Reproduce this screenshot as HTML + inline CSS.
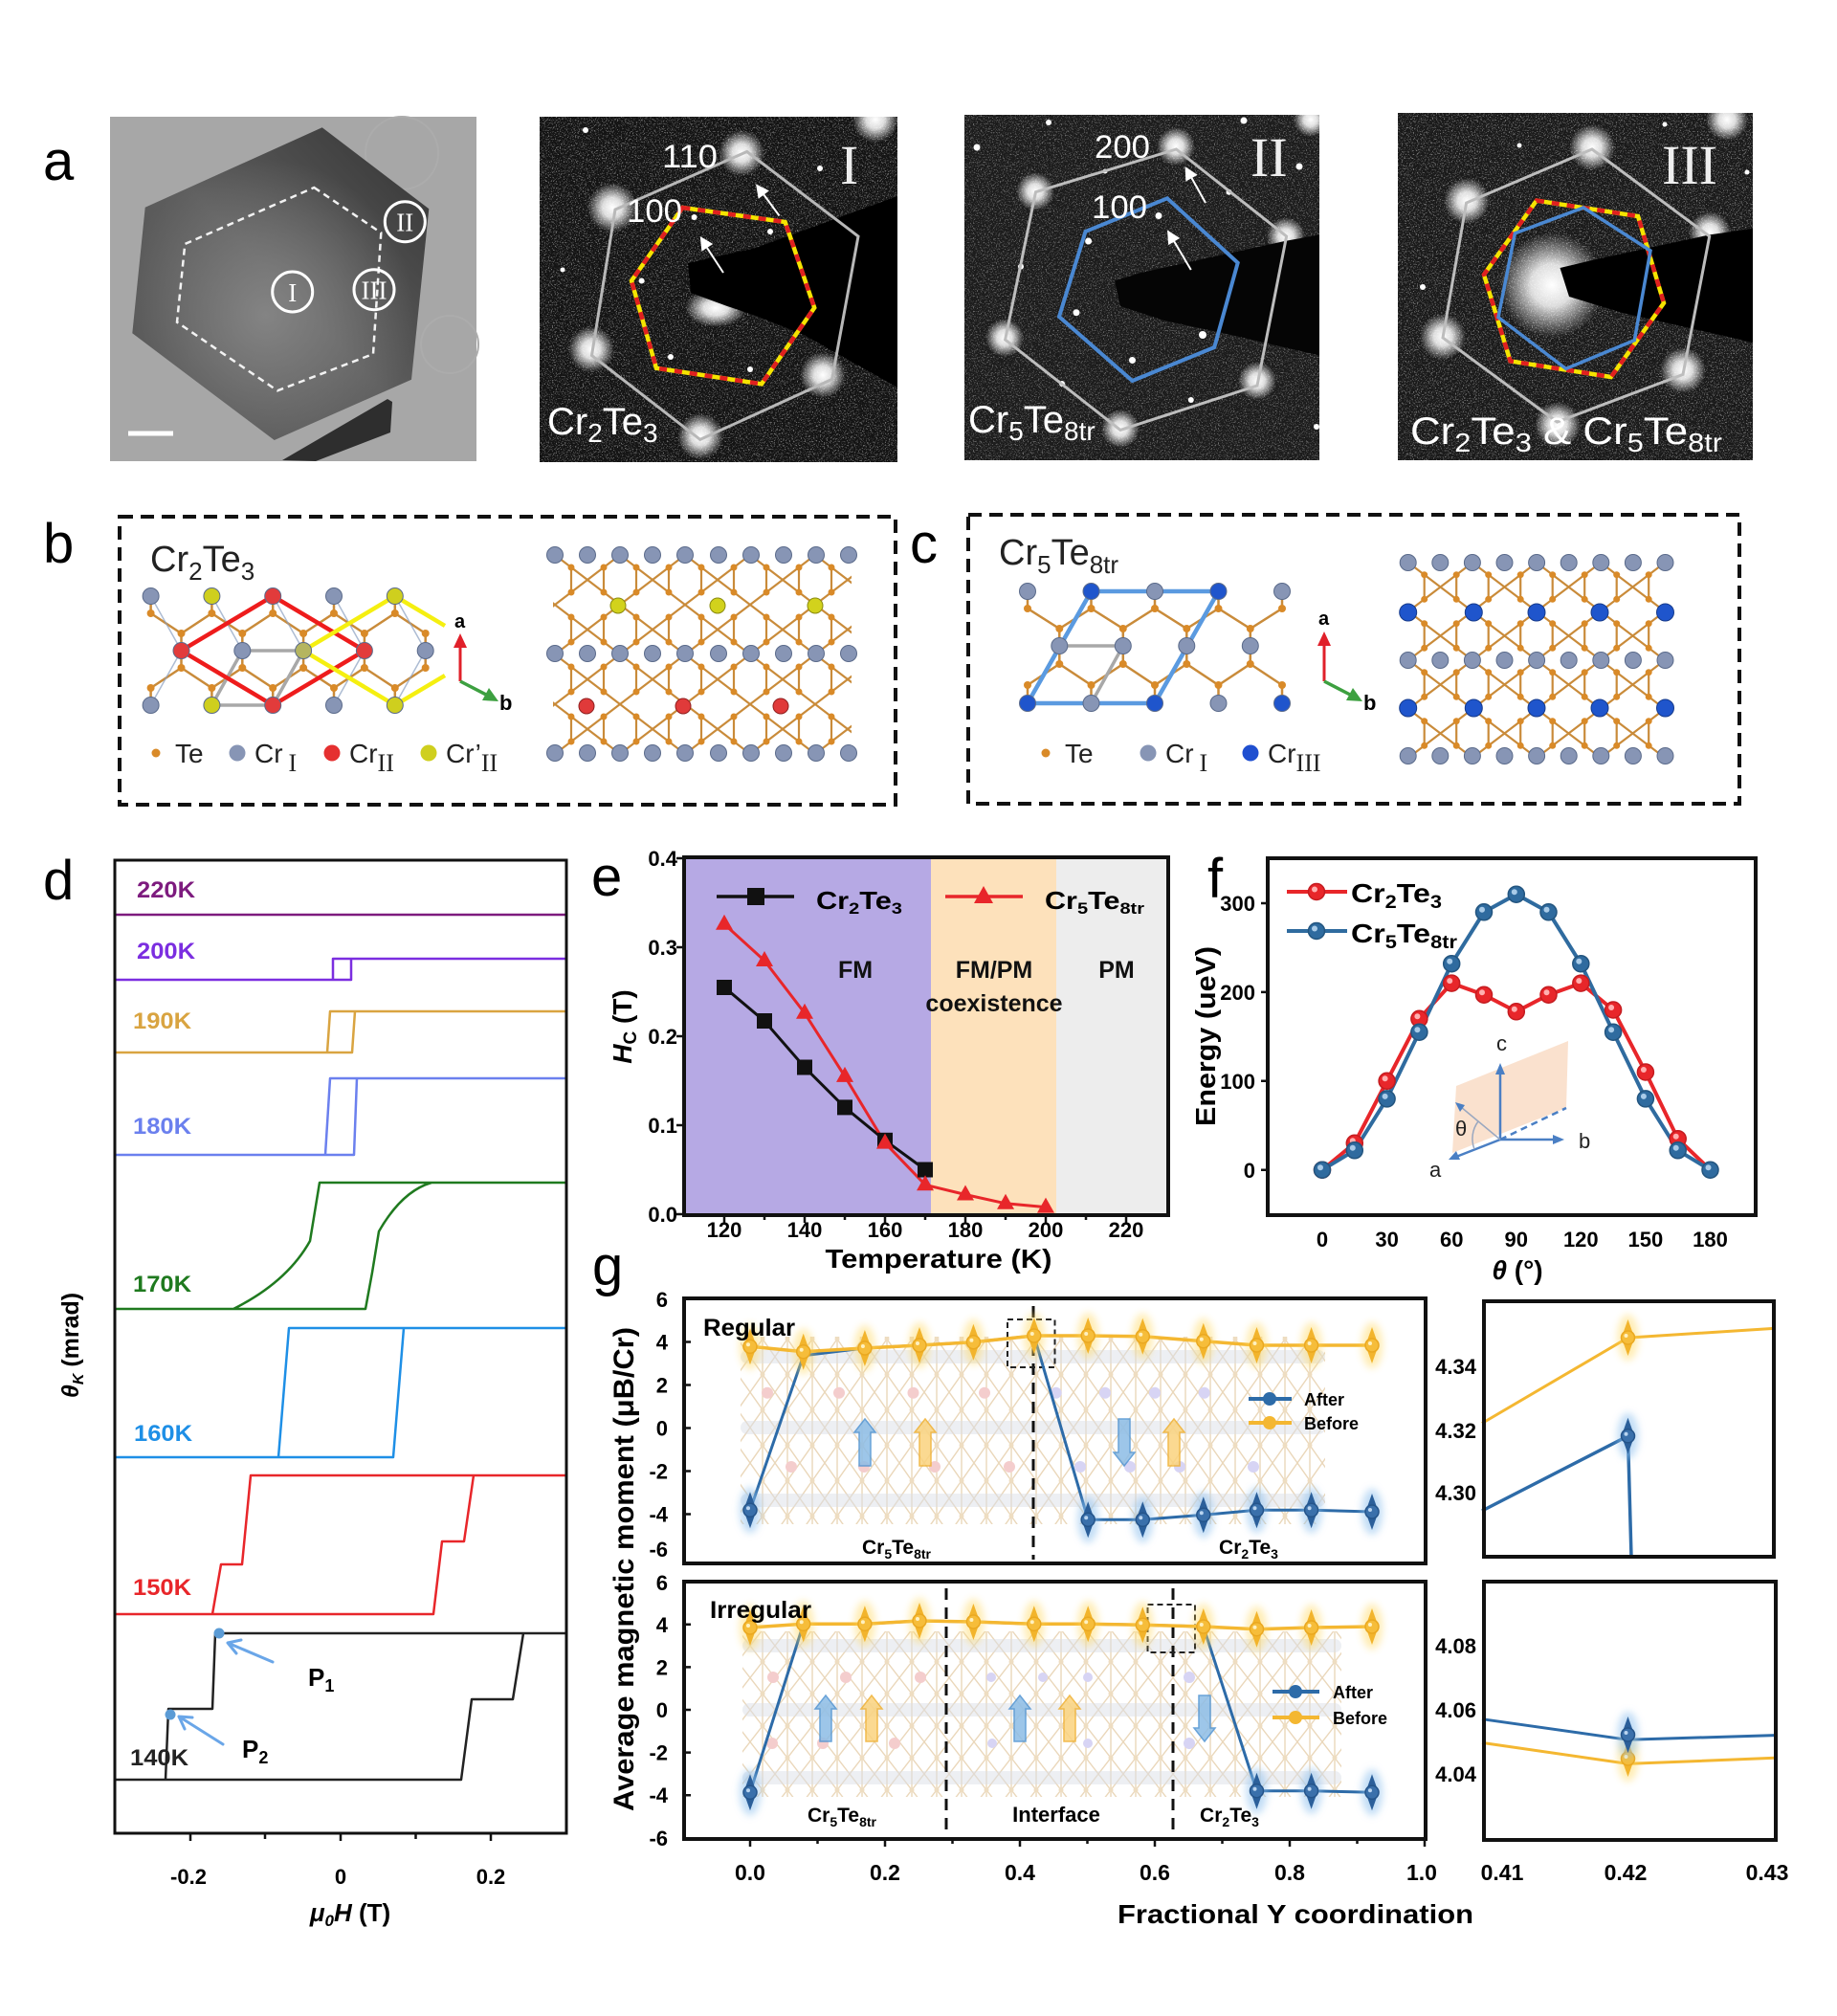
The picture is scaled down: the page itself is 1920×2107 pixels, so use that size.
<!DOCTYPE html>
<html><head><meta charset="utf-8"><style>html,body{margin:0;padding:0;background:#fff}svg{display:block}</style></head><body>
<svg width="1920" height="2107" viewBox="0 0 1920 2107" xmlns="http://www.w3.org/2000/svg" font-family="Liberation Sans, Arial, sans-serif">
<defs>
<radialGradient id="glow"><stop offset="0" stop-color="#fff" stop-opacity="1"/><stop offset="0.4" stop-color="#fff" stop-opacity="0.85"/><stop offset="1" stop-color="#fff" stop-opacity="0"/></radialGradient>
<linearGradient id="temg" x1="1" y1="0" x2="0" y2="1"><stop offset="0" stop-color="#333"/><stop offset="0.5" stop-color="#5e5e5e"/><stop offset="1" stop-color="#505050"/></linearGradient>
<radialGradient id="temc" cx="0.45" cy="0.6" r="0.5"><stop offset="0" stop-color="#888" stop-opacity="0.9"/><stop offset="1" stop-color="#888" stop-opacity="0"/></radialGradient>
<filter id="speck" x="0" y="0" width="1" height="1"><feTurbulence type="fractalNoise" baseFrequency="0.75" numOctaves="2" seed="7" result="n"/><feColorMatrix in="n" type="matrix" values="0 0 0 0 1 0 0 0 0 1 0 0 0 0 1 10 0 0 0 -5.7"/></filter>
<filter id="bl" x="-1" y="-1" width="3" height="3"><feGaussianBlur stdDeviation="4"/></filter>
<clipPath id="cpI"><rect x="564" y="122" width="374" height="361"/></clipPath>
<clipPath id="cpII"><rect x="1008" y="120" width="371" height="361"/></clipPath>
<clipPath id="cpIII"><rect x="1461" y="118" width="371" height="363"/></clipPath>
<pattern id="hxb" patternUnits="userSpaceOnUse" x="580" y="580" width="68" height="52"><path d="M0 0L34 26L68 0M0 52L34 26L68 52M17 13V39M51 13V39" stroke="#c98b3a" stroke-width="2.2" fill="none"/><circle cx="17" cy="13" r="3.5" fill="#d98a28"/><circle cx="51" cy="13" r="3.5" fill="#d98a28"/><circle cx="17" cy="39" r="3.5" fill="#d98a28"/><circle cx="51" cy="39" r="3.5" fill="#d98a28"/></pattern>
<pattern id="hxc" patternUnits="userSpaceOnUse" x="1472" y="588" width="67" height="51"><path d="M0 0L33.5 25.5L67 0M0 51L33.5 25.5L67 51M16.7 12.7V38.3M50.2 12.7V38.3" stroke="#c98b3a" stroke-width="2.2" fill="none"/><circle cx="16.7" cy="12.7" r="3.5" fill="#d98a28"/><circle cx="50.2" cy="12.7" r="3.5" fill="#d98a28"/><circle cx="16.7" cy="38.3" r="3.5" fill="#d98a28"/><circle cx="50.2" cy="38.3" r="3.5" fill="#d98a28"/></pattern>
<pattern id="lat" patternUnits="userSpaceOnUse" x="784" y="1418" width="26" height="37"><path d="M0 0L26 37M26 0L0 37M13 0V37" stroke="#e2c79e" stroke-width="1.4" fill="none"/><circle cx="13" cy="18.5" r="2.5" fill="#e8cfa8"/></pattern>
<pattern id="lat2" patternUnits="userSpaceOnUse" x="784" y="1720" width="26" height="33.5"><path d="M0 0L26 33.5M26 0L0 33.5M13 0V33.5" stroke="#e2c79e" stroke-width="1.4" fill="none"/><circle cx="13" cy="16.7" r="2.5" fill="#e8cfa8"/></pattern>
<g id="mY"><ellipse rx="11" ry="24" fill="#ffd75a" opacity="0.45" filter="url(#bl)"/><polygon points="0,-19 5,-5 5,5 0,19 -5,5 -5,-5" fill="#f2b42c"/><circle r="7" fill="#f6bd3a" stroke="#eaa820" stroke-width="1.5"/><circle cx="-2" cy="-2" r="2" fill="#fff1c0"/></g>
<g id="mB"><ellipse rx="11" ry="24" fill="#8fc1ee" opacity="0.55" filter="url(#bl)"/><polygon points="0,-19 5,-5 5,5 0,19 -5,5 -5,-5" fill="#2b5f9a"/><circle r="7" fill="#3a70ab" stroke="#24548a" stroke-width="1.5"/><circle cx="-2" cy="-2" r="2" fill="#b9d4f0"/></g>
<g id="fR"><circle r="8.5" fill="#e8262a" stroke="#c41c20" stroke-width="1.5"/><circle cx="-2" cy="-2.5" r="3" fill="#ffb0b0"/></g>
<g id="fB"><circle r="8.5" fill="#2f6b9f" stroke="#23557f" stroke-width="1.5"/><circle cx="-2" cy="-2.5" r="3" fill="#a9cbe8"/></g>
</defs>
<rect x="0" y="0" width="1920" height="2107" fill="#fff"/>

<!-- ===== Panel a ===== -->
<text x="45" y="188" font-size="58">a</text>
<rect x="115" y="122" width="383" height="360" fill="#a7a7a7"/>
<circle cx="420" cy="160" r="38" fill="none" stroke="#acacac" stroke-width="2"/>
<circle cx="470" cy="360" r="30" fill="none" stroke="#acacac" stroke-width="2"/>
<polygon points="336.7,133.3 448.3,218.3 430,396.7 286.7,460 138.3,348.3 151.7,216.7" fill="url(#temg)"/>
<polygon points="336.7,133.3 448.3,218.3 430,396.7 286.7,460 138.3,348.3 151.7,216.7" fill="url(#temc)"/>
<polygon points="295,481 405,417 410,420 408,452 330,482" fill="#2e2e2e"/>
<polygon points="328.3,196 398.3,243.3 390,370 290,408.3 185,336.7 193.3,255" fill="none" stroke="#f2f2f2" stroke-width="2.5" stroke-dasharray="7 5"/>
<g fill="none" stroke="#fff" stroke-width="3"><circle cx="305.7" cy="305" r="21"/><circle cx="423.3" cy="231.7" r="21"/><circle cx="391" cy="302.7" r="21"/></g>
<g font-family="Liberation Serif, serif" fill="#fff" font-size="27" text-anchor="middle"><text x="305.7" y="315">I</text><text x="423.3" y="241.5">II</text><text x="391" y="312.5">III</text></g>
<rect x="134" y="450.5" width="47" height="5" fill="#fff"/>

<!-- SAED I -->
<g clip-path="url(#cpI)">
<rect x="564" y="122" width="374" height="361" fill="#141414"/>
<rect x="564" y="122" width="374" height="361" fill="#fff" filter="url(#speck)" opacity="0.4"/>
<g fill="url(#glow)"><circle cx="640" cy="217" r="26"/><circle cx="775" cy="160" r="24"/><circle cx="618" cy="365" r="24"/><circle cx="732" cy="456" r="24"/><circle cx="860" cy="392" r="24"/><circle cx="915" cy="125" r="24"/><ellipse cx="748" cy="322" rx="32" ry="20"/></g>
<polygon points="719,275 790,259 938,205 938,405 840,350 790,330 760,320 722,306" fill="#000"/>
<g fill="#fff"><circle cx="612" cy="136" r="3"/><circle cx="588" cy="282" r="2.5"/><circle cx="670.6" cy="293.5" r="3"/><circle cx="701" cy="373" r="3"/><circle cx="784" cy="386" r="3"/><circle cx="805" cy="242" r="3"/><circle cx="725.6" cy="227" r="3"/><circle cx="857" cy="176" r="3"/></g>
<polygon points="780.7,158.5 897,247 869.6,396.4 731.8,459.4 618.5,371.5 643,219" fill="none" stroke="#b8b8b8" stroke-width="3"/>
<polygon points="713.4,217 820.6,232 851.2,321.7 796,401.3 685.9,384.7 660,293.5" fill="none" stroke="#f5e400" stroke-width="4.5"/>
<polygon points="713.4,217 820.6,232 851.2,321.7 796,401.3 685.9,384.7 660,293.5" fill="none" stroke="#e02020" stroke-width="4.5" stroke-dasharray="8 8"/>
<g stroke="#fff" stroke-width="2"><line x1="814.5" y1="225.5" x2="798" y2="203"/><line x1="756" y1="285" x2="739" y2="259"/></g>
<g fill="#fff"><polygon points="790,192.4 803.9,199.4 792.7,207.8"/><polygon points="731.8,247 745.2,255 733.4,262.6"/></g>
<text x="692" y="175" font-size="34" fill="#fff" textLength="58" lengthAdjust="spacingAndGlyphs">110</text>
<text x="655" y="232" font-size="34" fill="#fff" textLength="58" lengthAdjust="spacingAndGlyphs">100</text>
<text x="878" y="192" font-size="58" fill="#eee" font-family="Liberation Serif, serif">I</text>
<text x="572" y="454" font-size="40" fill="#fff">Cr<tspan font-size="28" dy="8">2</tspan><tspan dy="-8">Te</tspan><tspan font-size="28" dy="8">3</tspan></text>
</g>

<!-- SAED II -->
<g clip-path="url(#cpII)">
<rect x="1008" y="120" width="371" height="361" fill="#1c1c1c"/>
<rect x="1008" y="120" width="371" height="361" fill="#fff" filter="url(#speck)" opacity="0.35"/>
<g fill="url(#glow)"><circle cx="1229" cy="153" r="20"/><circle cx="1082" cy="200" r="20"/><circle cx="1344" cy="247" r="20"/><circle cx="1050" cy="353" r="20"/><circle cx="1314" cy="398" r="20"/><circle cx="1171" cy="448" r="20"/><circle cx="1370" cy="125" r="18"/></g>
<polygon points="1165,293.5 1192.7,285 1342.7,252 1379,245.4 1379,371.5 1278,348 1217,335 1171,320" fill="#050505"/>
<g fill="#fff"><circle cx="1021" cy="154" r="3.5"/><circle cx="1096" cy="128" r="3"/><circle cx="1300" cy="126" r="3.5"/><circle cx="1358" cy="174" r="3.5"/><circle cx="1155" cy="179" r="2.5"/><circle cx="1284.5" cy="200.7" r="3"/><circle cx="1211" cy="225.5" r="3.5"/><circle cx="1137.6" cy="252" r="3.5"/><circle cx="1067" cy="278.6" r="3"/><circle cx="1125" cy="326.7" r="3.5"/><circle cx="1257" cy="350" r="4"/><circle cx="1183.5" cy="376.5" r="3.5"/><circle cx="1110" cy="401" r="3"/><circle cx="1244.8" cy="418" r="3"/><circle cx="1376" cy="446" r="3"/></g>
<polygon points="1229.4,156 1344.6,247 1314,403 1171,449.4 1050.6,355 1082.5,200.7" fill="none" stroke="#bdbdbd" stroke-width="3"/>
<polygon points="1220,207.3 1293.7,274.6 1269.2,363 1183.5,398 1107,331 1134.5,242" fill="none" stroke="#4a88d2" stroke-width="4"/>
<g stroke="#fff" stroke-width="2"><line x1="1260" y1="212" x2="1245.5" y2="186"/><line x1="1244.8" y1="282" x2="1227" y2="252"/></g>
<g fill="#fff"><polygon points="1238.6,174 1251.6,182.8 1239.4,189.6"/><polygon points="1220,240.5 1233.2,248.9 1221.2,256.1"/></g>
<text x="1144" y="165" font-size="34" fill="#fff" textLength="58" lengthAdjust="spacingAndGlyphs">200</text>
<text x="1141" y="228" font-size="34" fill="#fff" textLength="58" lengthAdjust="spacingAndGlyphs">100</text>
<text x="1307" y="184" font-size="58" fill="#eee" font-family="Liberation Serif, serif">II</text>
<text x="1012" y="452" font-size="40" fill="#fff">Cr<tspan font-size="28" dy="8">5</tspan><tspan dy="-8">Te</tspan><tspan font-size="28" dy="8">8tr</tspan></text>
</g>

<!-- SAED III -->
<g clip-path="url(#cpIII)">
<rect x="1461" y="118" width="371" height="363" fill="#1a1a1a"/>
<rect x="1461" y="118" width="371" height="363" fill="#fff" filter="url(#speck)" opacity="0.4"/>
<g fill="url(#glow)"><circle cx="1664" cy="154" r="24"/><circle cx="1533" cy="210" r="24"/><circle cx="1787" cy="243" r="22"/><circle cx="1508" cy="352" r="24"/><circle cx="1759" cy="387" r="24"/><circle cx="1628" cy="444" r="24"/><circle cx="1805" cy="125" r="22"/><circle cx="1622" cy="298" r="55"/></g>
<polygon points="1630.5,280 1664,272 1786.7,245.4 1832,239 1832,358 1695,326.7 1640,310" fill="#000"/>
<g fill="#fff"><circle cx="1588" cy="152" r="2.5"/><circle cx="1740" cy="130" r="2.5"/><circle cx="1487" cy="300" r="3"/><circle cx="1826" cy="180" r="2.5"/></g>
<polygon points="1664,156 1786.7,247 1759,391.4 1627.5,441 1508,353 1532.6,212" fill="none" stroke="#bdbdbd" stroke-width="3"/>
<polygon points="1606,209.6 1712,226 1739,316.7 1683.8,394 1578.5,377.4 1551,287" fill="none" stroke="#f5e400" stroke-width="4.5"/>
<polygon points="1606,209.6 1712,226 1739,316.7 1683.8,394 1578.5,377.4 1551,287" fill="none" stroke="#e02020" stroke-width="4.5" stroke-dasharray="8 8"/>
<polygon points="1655,217 1725,262 1708.3,355.6 1636.7,385.4 1566,331.7 1583.4,243.8" fill="none" stroke="#4a88d2" stroke-width="3.5"/>
<text x="1737" y="192" font-size="58" fill="#eee" font-family="Liberation Serif, serif">III</text>
<text x="1474" y="464" font-size="40" fill="#fff" textLength="326" lengthAdjust="spacingAndGlyphs">Cr<tspan font-size="28" dy="8">2</tspan><tspan dy="-8">Te</tspan><tspan font-size="28" dy="8">3</tspan><tspan dy="-8"> &amp; Cr</tspan><tspan font-size="28" dy="8">5</tspan><tspan dy="-8">Te</tspan><tspan font-size="28" dy="8">8tr</tspan></text>
</g>

<!-- ===== Panel b ===== -->
<text x="45" y="588" font-size="58">b</text>
<rect x="125" y="540" width="811" height="301" fill="none" stroke="#111" stroke-width="4" stroke-dasharray="14 8"/>
<text x="157" y="597" font-size="38" fill="#222">Cr<tspan font-size="26" dy="9">2</tspan><tspan dy="-9">Te</tspan><tspan font-size="26" dy="9">3</tspan></text>
<path d="M157.6 623V641M221.4 623V641M285.2 623V641M349 623V641M412.8 623V641M157.6 641L189.5 662L221.4 641L253.3 662L285.2 641L317.1 662L349 641L380.9 662L412.8 641L444.7 662M189.5 662V698M253.3 662V698M317.1 662V698M380.9 662V698M444.7 662V698M157.6 719L189.5 698L221.4 719L253.3 698L285.2 719L317.1 698L349 719L380.9 698L412.8 719L444.7 698M157.6 719V737M221.4 719V737M285.2 719V737M349 719V737M412.8 719V737" stroke="#c98b3a" stroke-width="2.5" fill="none"/>
<path d="M157.6 623L189.5 680L157.6 737M221.4 623L253.3 680L221.4 737M285.2 623L317.1 680L285.2 737M349 623L380.9 680L349 737M412.8 623L444.7 680L412.8 737" stroke="#8aa0c0" stroke-width="1.5" fill="none" opacity="0.7"/>
<g fill="#d98a28"><circle cx="157.6" cy="641" r="4"/><circle cx="221.4" cy="641" r="4"/><circle cx="285.2" cy="641" r="4"/><circle cx="349" cy="641" r="4"/><circle cx="412.8" cy="641" r="4"/><circle cx="189.5" cy="662" r="4"/><circle cx="253.3" cy="662" r="4"/><circle cx="317.1" cy="662" r="4"/><circle cx="380.9" cy="662" r="4"/><circle cx="444.7" cy="662" r="4"/><circle cx="189.5" cy="698" r="4"/><circle cx="253.3" cy="698" r="4"/><circle cx="317.1" cy="698" r="4"/><circle cx="380.9" cy="698" r="4"/><circle cx="444.7" cy="698" r="4"/><circle cx="157.6" cy="719" r="4"/><circle cx="221.4" cy="719" r="4"/><circle cx="285.2" cy="719" r="4"/><circle cx="349" cy="719" r="4"/><circle cx="412.8" cy="719" r="4"/></g>
<polygon points="253.3,680 317.1,680 285.2,737 221.4,737" fill="none" stroke="#a8a8a8" stroke-width="3.5"/>
<polygon points="285.2,623 380.9,680 285.2,737 189.5,680" fill="none" stroke="#ee1c1c" stroke-width="4.5"/>
<path d="M465 654L412.8 623L317.1 680L412.8 737L465 706" fill="none" stroke="#f5ef10" stroke-width="4.5"/>
<g stroke="#5a6a8a" stroke-width="1"><circle cx="157.6" cy="623" r="8.5" fill="#8795b5"/><circle cx="221.4" cy="623" r="8.5" fill="#cfcf1e"/><circle cx="285.2" cy="623" r="8.5" fill="#e23b3b"/><circle cx="349" cy="623" r="8.5" fill="#8795b5"/><circle cx="412.8" cy="623" r="8.5" fill="#cfcf1e"/><circle cx="189.5" cy="680" r="8.5" fill="#e23b3b"/><circle cx="253.3" cy="680" r="8.5" fill="#8795b5"/><circle cx="317.1" cy="680" r="8.5" fill="#b5b560"/><circle cx="380.9" cy="680" r="8.5" fill="#e23b3b"/><circle cx="444.7" cy="680" r="8.5" fill="#8795b5"/><circle cx="157.6" cy="737" r="8.5" fill="#8795b5"/><circle cx="221.4" cy="737" r="8.5" fill="#cfcf1e"/><circle cx="285.2" cy="737" r="8.5" fill="#e23b3b"/><circle cx="349" cy="737" r="8.5" fill="#8795b5"/><circle cx="412.8" cy="737" r="8.5" fill="#cfcf1e"/></g>
<line x1="481" y1="712" x2="481" y2="675" stroke="#e0202a" stroke-width="3"/><polygon points="481,662 474,677 488,677" fill="#e0202a"/>
<line x1="481" y1="712" x2="510" y2="727" stroke="#3da040" stroke-width="3.5"/><polygon points="521,733 504,732 511,719" fill="#3da040"/>
<text x="475" y="656" font-size="20" font-weight="bold">a</text>
<text x="522" y="742" font-size="22" font-weight="bold">b</text>
<circle cx="163" cy="787" r="4.5" fill="#d98a28"/><text x="183" y="797" font-size="28" fill="#222">Te</text>
<circle cx="248" cy="787" r="8.5" fill="#8795b5"/><text x="266" y="797" font-size="28" fill="#222">Cr<tspan font-family="Liberation Serif, serif" font-size="26" dx="6" dy="9">I</tspan></text>
<circle cx="347" cy="787" r="8.5" fill="#e53030"/><text x="365" y="797" font-size="28" fill="#222">Cr<tspan font-family="Liberation Serif, serif" font-size="26" dy="9">II</tspan></text>
<circle cx="448" cy="787" r="8.5" fill="#cfcf1e"/><text x="466" y="797" font-size="28" fill="#222">Cr’<tspan font-family="Liberation Serif, serif" font-size="26" dy="9">II</tspan></text>
<rect x="578" y="580" width="312" height="207" fill="url(#hxb)"/>
<g stroke="#5a6a8a" stroke-width="1" fill="#8795b5">
<circle cx="580" cy="580" r="8.5"/><circle cx="614" cy="580" r="8.5"/><circle cx="648" cy="580" r="8.5"/><circle cx="682" cy="580" r="8.5"/><circle cx="716" cy="580" r="8.5"/><circle cx="751" cy="580" r="8.5"/><circle cx="785" cy="580" r="8.5"/><circle cx="819" cy="580" r="8.5"/><circle cx="853" cy="580" r="8.5"/><circle cx="887" cy="580" r="8.5"/>
<circle cx="580" cy="683" r="8.5"/><circle cx="614" cy="683" r="8.5"/><circle cx="648" cy="683" r="8.5"/><circle cx="682" cy="683" r="8.5"/><circle cx="716" cy="683" r="8.5"/><circle cx="751" cy="683" r="8.5"/><circle cx="785" cy="683" r="8.5"/><circle cx="819" cy="683" r="8.5"/><circle cx="853" cy="683" r="8.5"/><circle cx="887" cy="683" r="8.5"/>
<circle cx="580" cy="787" r="8.5"/><circle cx="614" cy="787" r="8.5"/><circle cx="648" cy="787" r="8.5"/><circle cx="682" cy="787" r="8.5"/><circle cx="716" cy="787" r="8.5"/><circle cx="751" cy="787" r="8.5"/><circle cx="785" cy="787" r="8.5"/><circle cx="819" cy="787" r="8.5"/><circle cx="853" cy="787" r="8.5"/><circle cx="887" cy="787" r="8.5"/>
</g>
<g stroke="#8a8a10" stroke-width="1" fill="#d2d21c"><circle cx="646" cy="633" r="8"/><circle cx="750" cy="633" r="8"/><circle cx="852" cy="633" r="8"/></g>
<g stroke="#902020" stroke-width="1" fill="#e03a3a"><circle cx="613" cy="738" r="8"/><circle cx="714" cy="738" r="8"/><circle cx="816" cy="738" r="8"/></g>

<!-- ===== Panel c ===== -->
<text x="951" y="588" font-size="58">c</text>
<rect x="1012" y="538" width="806" height="302" fill="none" stroke="#111" stroke-width="4" stroke-dasharray="14 8"/>
<text x="1044" y="590" font-size="38" fill="#222">Cr<tspan font-size="26" dy="9">5</tspan><tspan dy="-9">Te</tspan><tspan font-size="26" dy="9">8tr</tspan></text>
<path d="M1074 618V636M1140.5 618V636M1207 618V636M1273.5 618V636M1340 618V636M1074 636L1107.3 657L1140.5 636L1173.8 657L1207 636L1240.3 657L1273.5 636L1306.8 657L1340 636M1107.3 657V694M1173.8 657V694M1240.3 657V694M1306.8 657V694M1074 716L1107.3 694L1140.5 716L1173.8 694L1207 716L1240.3 694L1273.5 716L1306.8 694L1340 716M1074 716V735M1140.5 716V735M1207 716V735M1273.5 716V735M1340 716V735" stroke="#c98b3a" stroke-width="2.5" fill="none"/>
<g fill="#d98a28"><circle cx="1074" cy="636" r="4"/><circle cx="1140.5" cy="636" r="4"/><circle cx="1207" cy="636" r="4"/><circle cx="1273.5" cy="636" r="4"/><circle cx="1340" cy="636" r="4"/><circle cx="1107.3" cy="657" r="4"/><circle cx="1173.8" cy="657" r="4"/><circle cx="1240.3" cy="657" r="4"/><circle cx="1306.8" cy="657" r="4"/><circle cx="1107.3" cy="694" r="4"/><circle cx="1173.8" cy="694" r="4"/><circle cx="1240.3" cy="694" r="4"/><circle cx="1306.8" cy="694" r="4"/><circle cx="1074" cy="716" r="4"/><circle cx="1140.5" cy="716" r="4"/><circle cx="1207" cy="716" r="4"/><circle cx="1273.5" cy="716" r="4"/><circle cx="1340" cy="716" r="4"/></g>
<polygon points="1107.3,675 1173.8,675 1140.5,735 1074,735" fill="none" stroke="#a8a8a8" stroke-width="3.5"/>
<polygon points="1140.5,618 1273.5,618 1207,735 1074,735" fill="none" stroke="#5a9ae0" stroke-width="4.5"/>
<g stroke="#5a6a8a" stroke-width="1"><circle cx="1074" cy="618" r="8.5" fill="#8795b5"/><circle cx="1140.5" cy="618" r="8.5" fill="#1f55cc"/><circle cx="1207" cy="618" r="8.5" fill="#8795b5"/><circle cx="1273.5" cy="618" r="8.5" fill="#1f55cc"/><circle cx="1340" cy="618" r="8.5" fill="#8795b5"/><circle cx="1107.3" cy="675" r="8.5" fill="#8795b5"/><circle cx="1173.8" cy="675" r="8.5" fill="#8795b5"/><circle cx="1240.3" cy="675" r="8.5" fill="#8795b5"/><circle cx="1306.8" cy="675" r="8.5" fill="#8795b5"/><circle cx="1074" cy="735" r="8.5" fill="#1f55cc"/><circle cx="1140.5" cy="735" r="8.5" fill="#8795b5"/><circle cx="1207" cy="735" r="8.5" fill="#1f55cc"/><circle cx="1273.5" cy="735" r="8.5" fill="#8795b5"/><circle cx="1340" cy="735" r="8.5" fill="#1f55cc"/></g>
<line x1="1384" y1="712" x2="1384" y2="673" stroke="#e0202a" stroke-width="3"/><polygon points="1384,660 1377,675 1391,675" fill="#e0202a"/>
<line x1="1384" y1="712" x2="1413" y2="727" stroke="#3da040" stroke-width="3.5"/><polygon points="1424,733 1407,732 1414,719" fill="#3da040"/>
<text x="1378" y="653" font-size="20" font-weight="bold">a</text>
<text x="1425" y="742" font-size="22" font-weight="bold">b</text>
<circle cx="1093" cy="787" r="4.5" fill="#d98a28"/><text x="1113" y="797" font-size="28" fill="#222">Te</text>
<circle cx="1200" cy="787" r="8.5" fill="#8795b5"/><text x="1218" y="797" font-size="28" fill="#222">Cr<tspan font-family="Liberation Serif, serif" font-size="26" dx="6" dy="9">I</tspan></text>
<circle cx="1307" cy="787" r="8.5" fill="#1f4fd0"/><text x="1325" y="797" font-size="28" fill="#222">Cr<tspan font-family="Liberation Serif, serif" font-size="26" dy="9">III</tspan></text>
<rect x="1470" y="588" width="274" height="202" fill="url(#hxc)"/>
<g stroke="#5a6a8a" stroke-width="1" fill="#8795b5">
<circle cx="1471.7" cy="588" r="8.5"/><circle cx="1505.3" cy="588" r="8.5"/><circle cx="1538.9" cy="588" r="8.5"/><circle cx="1572.5" cy="588" r="8.5"/><circle cx="1606.1" cy="588" r="8.5"/><circle cx="1639.7" cy="588" r="8.5"/><circle cx="1673.3" cy="588" r="8.5"/><circle cx="1706.9" cy="588" r="8.5"/><circle cx="1740.5" cy="588" r="8.5"/>
<circle cx="1471.7" cy="690" r="8.5"/><circle cx="1505.3" cy="690" r="8.5"/><circle cx="1538.9" cy="690" r="8.5"/><circle cx="1572.5" cy="690" r="8.5"/><circle cx="1606.1" cy="690" r="8.5"/><circle cx="1639.7" cy="690" r="8.5"/><circle cx="1673.3" cy="690" r="8.5"/><circle cx="1706.9" cy="690" r="8.5"/><circle cx="1740.5" cy="690" r="8.5"/>
<circle cx="1471.7" cy="790" r="8.5"/><circle cx="1505.3" cy="790" r="8.5"/><circle cx="1538.9" cy="790" r="8.5"/><circle cx="1572.5" cy="790" r="8.5"/><circle cx="1606.1" cy="790" r="8.5"/><circle cx="1639.7" cy="790" r="8.5"/><circle cx="1673.3" cy="790" r="8.5"/><circle cx="1706.9" cy="790" r="8.5"/><circle cx="1740.5" cy="790" r="8.5"/>
</g>
<g stroke="#163a8a" stroke-width="1" fill="#1f55cc"><circle cx="1471.7" cy="640" r="9"/><circle cx="1540.3" cy="640" r="9"/><circle cx="1606" cy="640" r="9"/><circle cx="1672" cy="640" r="9"/><circle cx="1740.5" cy="640" r="9"/><circle cx="1471.7" cy="740" r="9"/><circle cx="1540.3" cy="740" r="9"/><circle cx="1606" cy="740" r="9"/><circle cx="1672" cy="740" r="9"/><circle cx="1740.5" cy="740" r="9"/></g>

<!-- ===== Panel d ===== -->
<text x="45" y="940" font-size="58">d</text>
<g fill="none" stroke-width="2.5" stroke-linejoin="round">
<path d="M120 956H592" stroke="#7d1b7e"/>
<path d="M120 1024H367V1002H592M367 1002H348V1024" stroke="#7b2ee0"/>
<path d="M120 1100H368L371 1057H592M371 1057H345L342 1100" stroke="#d9a441"/>
<path d="M120 1207H370L373 1127H592M373 1127H345L340 1207" stroke="#6b80ee"/>
<path d="M120 1368H382L389 1330L396 1287Q420 1245 451 1236H592M451 1236H334L324 1297Q300 1340 244 1368" stroke="#1f7a1f"/>
<path d="M120 1523H411L422 1388H592M422 1388H302L291 1523" stroke="#1e8fe6"/>
<path d="M120 1687H453L462 1611H485L495 1542H592M495 1542H262L253 1635H231L222 1687" stroke="#e8262a"/>
<path d="M120 1860H482L493 1776H536L547 1707H592M547 1707H225L222 1786H176L173 1860" stroke="#222"/>
</g>
<g font-size="24" font-weight="bold">
<text x="143" y="938" fill="#7d1b7e" textLength="61" lengthAdjust="spacingAndGlyphs">220K</text>
<text x="143" y="1002" fill="#7b2ee0" textLength="61" lengthAdjust="spacingAndGlyphs">200K</text>
<text x="139" y="1075" fill="#d9a441" textLength="61" lengthAdjust="spacingAndGlyphs">190K</text>
<text x="139" y="1185" fill="#6b80ee" textLength="61" lengthAdjust="spacingAndGlyphs">180K</text>
<text x="139" y="1350" fill="#1f7a1f" textLength="61" lengthAdjust="spacingAndGlyphs">170K</text>
<text x="140" y="1506" fill="#1e8fe6" textLength="61" lengthAdjust="spacingAndGlyphs">160K</text>
<text x="139" y="1667" fill="#e8262a" textLength="61" lengthAdjust="spacingAndGlyphs">150K</text>
<text x="136" y="1845" fill="#222" textLength="61" lengthAdjust="spacingAndGlyphs">140K</text>
</g>
<circle cx="229" cy="1707" r="5.5" fill="#5b9bd5"/><circle cx="178" cy="1792" r="5.5" fill="#5b9bd5"/>
<g stroke="#6aa6e8" stroke-width="3" fill="none" stroke-linecap="round"><path d="M285 1737L238 1717M238 1717L252 1714M238 1717L247 1728"/><path d="M233 1823L187 1794M187 1794L201 1795M187 1794L193 1807"/></g>
<text x="322" y="1762" font-size="26" font-weight="bold">P<tspan font-size="18" dy="6">1</tspan></text>
<text x="253" y="1837" font-size="26" font-weight="bold">P<tspan font-size="18" dy="6">2</tspan></text>
<rect x="120" y="899" width="472" height="1017" fill="none" stroke="#111" stroke-width="3"/>
<path d="M199 1916v8M277 1916v6M356 1916v8M434.5 1916v6M513 1916v8" stroke="#111" stroke-width="2.5"/>
<g font-size="22" font-weight="bold" text-anchor="middle"><text x="197" y="1969">-0.2</text><text x="356" y="1969">0</text><text x="513" y="1969">0.2</text></g>
<text x="366" y="2008" font-size="26" font-weight="bold" font-style="italic" text-anchor="middle">μ<tspan font-size="17" dy="5">0</tspan><tspan dy="-5">H</tspan><tspan font-style="normal"> (T)</tspan></text>
<text transform="translate(82,1406) rotate(-90)" font-size="25" font-weight="bold" text-anchor="middle"><tspan font-style="italic">θ</tspan><tspan font-size="16" font-style="italic" dy="5">K</tspan><tspan dy="-5"> (mrad)</tspan></text>

<!-- ===== Panel e ===== -->
<text x="618" y="936" font-size="58">e</text>
<rect x="715" y="896" width="258" height="374" fill="#b6a9e4"/>
<rect x="973" y="896" width="131" height="374" fill="#fde1bb"/>
<rect x="1104" y="896" width="117" height="374" fill="#ededed"/>
<polyline points="757,1031.8 799,1067.2 841,1115.5 883,1157.4 925,1191.8 967,1222.5" fill="none" stroke="#111" stroke-width="3"/>
<polyline points="757,965.8 799,1004 841,1058.8 883,1124.9 925,1194.6 967,1238.3 1009,1248.5 1051,1257.8 1093,1261.6" fill="none" stroke="#e8262a" stroke-width="3"/>
<g fill="#111"><rect x="749" y="1024" width="16" height="16"/><rect x="791" y="1059" width="16" height="16"/><rect x="833" y="1107.5" width="16" height="16"/><rect x="875" y="1149.4" width="16" height="16"/><rect x="917" y="1183.8" width="16" height="16"/><rect x="959" y="1214.5" width="16" height="16"/></g>
<g fill="#e8262a"><polygon points="757,955.8 766,971.8 748,971.8"/><polygon points="799,994 808,1010 790,1010"/><polygon points="841,1048.8 850,1064.8 832,1064.8"/><polygon points="883,1114.9 892,1130.9 874,1130.9"/><polygon points="925,1184.6 934,1200.6 916,1200.6"/><polygon points="967,1228.3 976,1244.3 958,1244.3"/><polygon points="1009,1238.5 1018,1254.5 1000,1254.5"/><polygon points="1051,1247.8 1060,1263.8 1042,1263.8"/><polygon points="1093,1251.6 1102,1267.6 1084,1267.6"/></g>
<line x1="749" y1="937" x2="830" y2="937" stroke="#111" stroke-width="3.5"/><rect x="781" y="928" width="18" height="18" fill="#111"/>
<text x="853" y="950" font-size="26" font-weight="bold" textLength="90" lengthAdjust="spacingAndGlyphs">Cr<tspan font-size="17" dy="5">2</tspan><tspan dy="-5">Te</tspan><tspan font-size="17" dy="5">3</tspan></text>
<line x1="988" y1="937" x2="1069" y2="937" stroke="#e8262a" stroke-width="3.5"/><polygon points="1028,926 1038,944 1018,944" fill="#e8262a"/>
<text x="1092" y="950" font-size="26" font-weight="bold" textLength="104" lengthAdjust="spacingAndGlyphs">Cr<tspan font-size="17" dy="5">5</tspan><tspan dy="-5">Te</tspan><tspan font-size="17" dy="5">8tr</tspan></text>
<g font-size="25" font-weight="bold" text-anchor="middle" fill="#111"><text x="894" y="1022">FM</text><text x="1039" y="1022">FM/PM</text><text x="1039" y="1057">coexistence</text><text x="1167" y="1022">PM</text></g>
<rect x="715" y="896" width="506" height="374" fill="none" stroke="#111" stroke-width="4"/>
<path d="M757 1270v8M799 1270v5M841 1270v8M883 1270v5M925 1270v8M967 1270v5M1009 1270v8M1051 1270v5M1093 1270v8M1135 1270v5M1177 1270v8M715 1269h-8M715 1176h-8M715 1083h-8M715 990h-8M715 897h-8" stroke="#111" stroke-width="2.5"/>
<g font-size="22" font-weight="bold" text-anchor="end"><text x="708" y="1277">0.0</text><text x="708" y="1184">0.1</text><text x="708" y="1091">0.2</text><text x="708" y="998">0.3</text><text x="708" y="905">0.4</text></g>
<g font-size="22" font-weight="bold" text-anchor="middle"><text x="757" y="1293">120</text><text x="841" y="1293">140</text><text x="925" y="1293">160</text><text x="1009" y="1293">180</text><text x="1093" y="1293">200</text><text x="1177" y="1293">220</text></g>
<text x="981" y="1325" font-size="28" font-weight="bold" text-anchor="middle" textLength="237" lengthAdjust="spacingAndGlyphs">Temperature (K)</text>
<text transform="translate(660,1073) rotate(-90)" font-size="28" font-weight="bold" text-anchor="middle"><tspan font-style="italic">H</tspan><tspan font-size="19" dy="5">C</tspan><tspan dy="-5"> (T)</tspan></text>

<!-- ===== Panel f ===== -->
<text x="1262" y="938" font-size="58">f</text>
<polygon points="1522,1135 1639,1088 1637,1158 1518,1205" fill="#f9dcc6" opacity="0.85"/>
<g stroke="#4a7fc4" stroke-width="2.5" fill="none"><line x1="1568" y1="1191" x2="1568" y2="1120"/><line x1="1568" y1="1191" x2="1626" y2="1191"/><line x1="1568" y1="1191" x2="1522" y2="1209"/><line x1="1568" y1="1191" x2="1637" y2="1158" stroke-dasharray="7 5"/></g>
<line x1="1568" y1="1191" x2="1527" y2="1157" stroke="#9aa8c0" stroke-width="1.5"/>
<path d="M1545 1172A30 30 0 0 0 1541 1201" stroke="#9aa8c0" stroke-width="1.5" fill="none"/>
<g fill="#4a7fc4"><polygon points="1568,1111 1563,1123 1573,1123"/><polygon points="1635,1191 1623,1186 1623,1196"/><polygon points="1514,1212 1522,1203 1526,1212"/><polygon points="1521,1152 1531,1155 1526,1162"/></g>
<g font-size="22" fill="#222"><text x="1564" y="1098">c</text><text x="1650" y="1200">b</text><text x="1494" y="1230">a</text><text x="1521" y="1187">θ</text></g>
<polyline points="1382,1222.7 1415.8,1194.8 1449.6,1129.8 1483.4,1064.8 1517.2,1027.6 1551,1039.7 1584.8,1057.3 1618.5,1039.7 1652.3,1027.6 1686.1,1055.5 1719.9,1120.5 1753.7,1190.2 1787.5,1222.7" fill="none" stroke="#e8262a" stroke-width="4"/>
<polyline points="1382,1222.7 1415.8,1202.3 1449.6,1148.4 1483.4,1078.7 1517.2,1007.2 1551,953.3 1584.8,934.7 1618.5,953.3 1652.3,1007.2 1686.1,1078.7 1719.9,1148.4 1753.7,1202.3 1787.5,1222.7" fill="none" stroke="#2f6b9f" stroke-width="4"/>
<use href="#fR" x="1382" y="1222.7"/><use href="#fR" x="1415.8" y="1194.8"/><use href="#fR" x="1449.6" y="1129.8"/><use href="#fR" x="1483.4" y="1064.8"/><use href="#fR" x="1517.2" y="1027.6"/><use href="#fR" x="1551" y="1039.7"/><use href="#fR" x="1584.8" y="1057.3"/><use href="#fR" x="1618.5" y="1039.7"/><use href="#fR" x="1652.3" y="1027.6"/><use href="#fR" x="1686.1" y="1055.5"/><use href="#fR" x="1719.9" y="1120.5"/><use href="#fR" x="1753.7" y="1190.2"/>
<use href="#fB" x="1382" y="1222.7"/><use href="#fB" x="1415.8" y="1202.3"/><use href="#fB" x="1449.6" y="1148.4"/><use href="#fB" x="1483.4" y="1078.7"/><use href="#fB" x="1517.2" y="1007.2"/><use href="#fB" x="1551" y="953.3"/><use href="#fB" x="1584.8" y="934.7"/><use href="#fB" x="1618.5" y="953.3"/><use href="#fB" x="1652.3" y="1007.2"/><use href="#fB" x="1686.1" y="1078.7"/><use href="#fB" x="1719.9" y="1148.4"/><use href="#fB" x="1753.7" y="1202.3"/><use href="#fB" x="1787.5" y="1222.7"/>
<line x1="1345" y1="932" x2="1408" y2="932" stroke="#e8262a" stroke-width="4"/><use href="#fR" x="1376" y="932"/>
<line x1="1345" y1="973" x2="1408" y2="973" stroke="#2f6b9f" stroke-width="4"/><use href="#fB" x="1376" y="973"/>
<text x="1412" y="943" font-size="28" font-weight="bold" textLength="95" lengthAdjust="spacingAndGlyphs">Cr<tspan font-size="19" dy="6">2</tspan><tspan dy="-6">Te</tspan><tspan font-size="19" dy="6">3</tspan></text>
<text x="1412" y="985" font-size="28" font-weight="bold" textLength="111" lengthAdjust="spacingAndGlyphs">Cr<tspan font-size="19" dy="6">5</tspan><tspan dy="-6">Te</tspan><tspan font-size="19" dy="6">8tr</tspan></text>
<rect x="1325" y="897" width="510" height="373" fill="none" stroke="#111" stroke-width="4"/>
<path d="M1325 1222.7h-7M1325 1129.8h-7M1325 1036.9h-7M1325 944h-7" stroke="#111" stroke-width="2.5"/>
<g font-size="22" font-weight="bold" text-anchor="end"><text x="1312" y="1231">0</text><text x="1312" y="1138">100</text><text x="1312" y="1045">200</text><text x="1312" y="952">300</text></g>
<g font-size="22" font-weight="bold" text-anchor="middle"><text x="1382" y="1303">0</text><text x="1449.6" y="1303">30</text><text x="1517.2" y="1303">60</text><text x="1584.8" y="1303">90</text><text x="1652.3" y="1303">120</text><text x="1719.9" y="1303">150</text><text x="1787.5" y="1303">180</text></g>
<text x="1586" y="1337" font-size="28" font-weight="bold" text-anchor="middle"><tspan font-style="italic">θ</tspan> (°)</text>
<text transform="translate(1270,1083) rotate(-90)" font-size="29" font-weight="bold" text-anchor="middle" textLength="188" lengthAdjust="spacingAndGlyphs">Energy (ueV)</text>

<!-- ===== Panel g ===== -->
<text x="619" y="1343" font-size="58">g</text>
<g opacity="0.7">
<rect x="774" y="1397" width="611" height="196" fill="url(#lat)"/>
<g fill="#cbd2de"><rect x="774" y="1411" width="611" height="14" rx="7" opacity="0.5"/><rect x="774" y="1485" width="611" height="14" rx="7" opacity="0.5"/><rect x="774" y="1561" width="611" height="14" rx="7" opacity="0.5"/></g>
<g fill="#f0b9b9"><circle cx="802" cy="1455.7" r="6"/><circle cx="877" cy="1455.7" r="6"/><circle cx="954.5" cy="1455.7" r="6"/><circle cx="1029" cy="1455.7" r="6"/><circle cx="827" cy="1533" r="6"/><circle cx="903" cy="1533" r="6"/><circle cx="977" cy="1533" r="6"/><circle cx="1055" cy="1533" r="6"/></g>
<g fill="#c7c3f0"><circle cx="1103.7" cy="1455.7" r="6"/><circle cx="1155" cy="1455.7" r="6"/><circle cx="1207" cy="1455.7" r="6"/><circle cx="1258.7" cy="1455.7" r="6"/><circle cx="1129" cy="1533" r="6"/><circle cx="1181" cy="1533" r="6"/><circle cx="1233" cy="1533" r="6"/><circle cx="1310" cy="1533" r="6"/></g>
</g>
<line x1="1080" y1="1365" x2="1080" y2="1630" stroke="#111" stroke-width="3" stroke-dasharray="12 8"/>
<rect x="1053" y="1379" width="49.5" height="50" fill="none" stroke="#222" stroke-width="2" stroke-dasharray="6 4"/>
<g stroke-width="1.5"><polygon points="898,1532 898,1497 893,1497 904,1483 915,1497 910,1497 910,1532" fill="#8dbde6" stroke="#4f93d2" opacity="0.85"/><polygon points="961,1532 961,1497 956,1497 967,1483 978,1497 973,1497 973,1532" fill="#fbd37e" stroke="#f0b030" opacity="0.85"/><polygon points="1169,1483 1169,1518 1164,1518 1175,1532 1186,1518 1181,1518 1181,1483" fill="#8dbde6" stroke="#4f93d2" opacity="0.85"/><polygon points="1221,1532 1221,1497 1216,1497 1227,1483 1238,1497 1233,1497 1233,1532" fill="#fbd37e" stroke="#f0b030" opacity="0.85"/></g>
<polyline points="784,1578.3 839.7,1416.7 903.9,1409 961,1406 1017.4,1402.7 1080.8,1396 1137.2,1588.3 1194.3,1588.3 1257.8,1583.3 1313.5,1578.3 1370.6,1578.3 1434,1580" fill="none" stroke="#2d6ba8" stroke-width="3"/>
<polyline points="784,1407.3 839.7,1412.7 903.9,1409 961,1406 1017.4,1402.7 1080.8,1396 1137.2,1396 1194.3,1396.7 1257.8,1401.7 1313.5,1406 1370.6,1406 1434,1406" fill="none" stroke="#f4b731" stroke-width="3.5"/>
<use href="#mB" x="784" y="1578.3"/><use href="#mB" x="1137.2" y="1588.3"/><use href="#mB" x="1194.3" y="1588.3"/><use href="#mB" x="1257.8" y="1583.3"/><use href="#mB" x="1313.5" y="1578.3"/><use href="#mB" x="1370.6" y="1578.3"/><use href="#mB" x="1434" y="1580"/>
<use href="#mY" x="784" y="1407.3"/><use href="#mY" x="839.7" y="1412.7"/><use href="#mY" x="903.9" y="1409"/><use href="#mY" x="961" y="1406"/><use href="#mY" x="1017.4" y="1402.7"/><use href="#mY" x="1080.8" y="1396"/><use href="#mY" x="1137.2" y="1396"/><use href="#mY" x="1194.3" y="1396.7"/><use href="#mY" x="1257.8" y="1401.7"/><use href="#mY" x="1313.5" y="1406"/><use href="#mY" x="1370.6" y="1406"/><use href="#mY" x="1434" y="1406"/>
<line x1="1305" y1="1462" x2="1350" y2="1462" stroke="#2d6ba8" stroke-width="4"/><circle cx="1327" cy="1462" r="7" fill="#2d6ba8"/>
<line x1="1305" y1="1487" x2="1350" y2="1487" stroke="#f4b731" stroke-width="4"/><circle cx="1327" cy="1487" r="7" fill="#f4b731"/>
<g font-size="18" font-weight="bold"><text x="1363" y="1469">After</text><text x="1363" y="1494">Before</text></g>
<text x="735" y="1396" font-size="25" font-weight="bold" textLength="96" lengthAdjust="spacingAndGlyphs">Regular</text>
<text x="937" y="1624" font-size="21" font-weight="bold" text-anchor="middle">Cr<tspan font-size="14" dy="5">5</tspan><tspan dy="-5">Te</tspan><tspan font-size="14" dy="5">8tr</tspan></text>
<text x="1305" y="1624" font-size="21" font-weight="bold" text-anchor="middle">Cr<tspan font-size="14" dy="5">2</tspan><tspan dy="-5">Te</tspan><tspan font-size="14" dy="5">3</tspan></text>
<rect x="715" y="1357" width="775" height="277" fill="none" stroke="#111" stroke-width="4"/>
<path d="M715 1402.5h7M715 1447.5h7M715 1492.5h7M715 1537.5h7M715 1582.5h7" stroke="#111" stroke-width="2.5"/>
<g font-size="22" font-weight="bold" text-anchor="end"><text x="698" y="1366">6</text><text x="698" y="1410.5">4</text><text x="698" y="1455.5">2</text><text x="698" y="1500.5">0</text><text x="698" y="1545.5">-2</text><text x="698" y="1590.5">-4</text><text x="698" y="1627">-6</text></g>

<g opacity="0.7">
<rect x="776" y="1705" width="626" height="173" fill="url(#lat2)"/>
<g fill="#cbd2de"><rect x="776" y="1713" width="626" height="14" rx="7" opacity="0.5"/><rect x="776" y="1780" width="626" height="14" rx="7" opacity="0.5"/><rect x="776" y="1851" width="626" height="14" rx="7" opacity="0.5"/></g>
<g fill="#f0b9b9"><circle cx="808" cy="1753" r="6"/><circle cx="884" cy="1753" r="6"/><circle cx="962" cy="1753" r="6"/><circle cx="807" cy="1822" r="6"/><circle cx="860" cy="1822" r="6"/><circle cx="935" cy="1822" r="6"/></g>
<g fill="#c7c3f0"><circle cx="1036" cy="1753" r="5"/><circle cx="1090" cy="1753" r="5"/><circle cx="1137" cy="1753" r="5"/><circle cx="1243" cy="1753" r="6"/><circle cx="1037" cy="1822" r="5"/><circle cx="1137" cy="1822" r="5"/><circle cx="1243" cy="1822" r="6"/></g>
</g>
<line x1="989" y1="1660" x2="989" y2="1922" stroke="#111" stroke-width="3" stroke-dasharray="12 8"/>
<line x1="1226" y1="1660" x2="1226" y2="1922" stroke="#111" stroke-width="3" stroke-dasharray="12 8"/>
<rect x="1199.5" y="1677" width="49.5" height="50" fill="none" stroke="#222" stroke-width="2" stroke-dasharray="6 4"/>
<g stroke-width="1.5"><polygon points="857,1820 857,1786 852,1786 863,1772 874,1786 869,1786 869,1820" fill="#8dbde6" stroke="#4f93d2" opacity="0.85"/><polygon points="905,1820 905,1786 900,1786 911,1772 922,1786 917,1786 917,1820" fill="#fbd37e" stroke="#f0b030" opacity="0.85"/><polygon points="1060,1820 1060,1786 1055,1786 1066,1772 1077,1786 1072,1786 1072,1820" fill="#8dbde6" stroke="#4f93d2" opacity="0.85"/><polygon points="1112,1820 1112,1786 1107,1786 1118,1772 1129,1786 1124,1786 1124,1820" fill="#fbd37e" stroke="#f0b030" opacity="0.85"/><polygon points="1253,1772 1253,1806 1248,1806 1259,1820 1270,1806 1265,1806 1265,1772" fill="#8dbde6" stroke="#4f93d2" opacity="0.85"/></g>
<polyline points="784,1873.3 839.7,1697.3 903.9,1697.3 961,1694 1017.4,1695 1080.8,1697.3 1137.2,1697.3 1194.3,1698.3 1257.8,1700 1313.5,1871.7 1370.6,1871.7 1434,1873.3" fill="none" stroke="#2d6ba8" stroke-width="3"/>
<polyline points="784,1701 839.7,1697.3 903.9,1697.3 961,1694 1017.4,1695 1080.8,1697.3 1137.2,1697.3 1194.3,1698.3 1257.8,1700 1313.5,1702.7 1370.6,1701 1434,1700" fill="none" stroke="#f4b731" stroke-width="3.5"/>
<use href="#mB" x="784" y="1873.3"/><use href="#mB" x="1313.5" y="1871.7"/><use href="#mB" x="1370.6" y="1871.7"/><use href="#mB" x="1434" y="1873.3"/>
<use href="#mY" x="784" y="1701"/><use href="#mY" x="839.7" y="1697.3"/><use href="#mY" x="903.9" y="1697.3"/><use href="#mY" x="961" y="1694"/><use href="#mY" x="1017.4" y="1695"/><use href="#mY" x="1080.8" y="1697.3"/><use href="#mY" x="1137.2" y="1697.3"/><use href="#mY" x="1194.3" y="1698.3"/><use href="#mY" x="1257.8" y="1700"/><use href="#mY" x="1313.5" y="1702.7"/><use href="#mY" x="1370.6" y="1701"/><use href="#mY" x="1434" y="1700"/>
<line x1="1330" y1="1768" x2="1379" y2="1768" stroke="#2d6ba8" stroke-width="4"/><circle cx="1354" cy="1768" r="7" fill="#2d6ba8"/>
<line x1="1330" y1="1795" x2="1379" y2="1795" stroke="#f4b731" stroke-width="4"/><circle cx="1354" cy="1795" r="7" fill="#f4b731"/>
<g font-size="18" font-weight="bold"><text x="1393" y="1775">After</text><text x="1393" y="1802">Before</text></g>
<text x="742" y="1691" font-size="25" font-weight="bold" textLength="106" lengthAdjust="spacingAndGlyphs">Irregular</text>
<text x="880" y="1904" font-size="21" font-weight="bold" text-anchor="middle">Cr<tspan font-size="14" dy="5">5</tspan><tspan dy="-5">Te</tspan><tspan font-size="14" dy="5">8tr</tspan></text>
<text x="1104" y="1904" font-size="22" font-weight="bold" text-anchor="middle">Interface</text>
<text x="1285" y="1904" font-size="21" font-weight="bold" text-anchor="middle">Cr<tspan font-size="14" dy="5">2</tspan><tspan dy="-5">Te</tspan><tspan font-size="14" dy="5">3</tspan></text>
<rect x="715" y="1653" width="775" height="269" fill="none" stroke="#111" stroke-width="4"/>
<path d="M715 1697.8h7M715 1742.4h7M715 1787h7M715 1831.6h7M715 1876.2h7M784 1922v8M854.5 1922v5M925 1922v8M995.5 1922v5M1066 1922v8M1136.5 1922v5M1207 1922v8M1277.5 1922v5M1348 1922v8M1418.5 1922v5M1489 1922v8" stroke="#111" stroke-width="2.5"/>
<g font-size="22" font-weight="bold" text-anchor="end"><text x="698" y="1662">6</text><text x="698" y="1706">4</text><text x="698" y="1750.5">2</text><text x="698" y="1795">0</text><text x="698" y="1839.5">-2</text><text x="698" y="1884">-4</text><text x="698" y="1929">-6</text></g>
<g font-size="23" font-weight="bold" text-anchor="middle"><text x="784" y="1965">0.0</text><text x="925" y="1965">0.2</text><text x="1066" y="1965">0.4</text><text x="1207" y="1965">0.6</text><text x="1348" y="1965">0.8</text><text x="1486" y="1965">1.0</text></g>
<text x="1168" y="2010" font-size="28" font-weight="bold" textLength="372" lengthAdjust="spacingAndGlyphs">Fractional Y coordination</text>
<text transform="translate(662,1640) rotate(-90)" font-size="30" font-weight="bold" text-anchor="middle" textLength="506" lengthAdjust="spacingAndGlyphs">Average magnetic moment (μB/Cr)</text>

<polyline points="1549,1487.5 1701.5,1398.1 1854,1388.4" fill="none" stroke="#f4b731" stroke-width="3"/>
<polyline points="1549,1579 1701.5,1500.8 1705,1627" fill="none" stroke="#2d6ba8" stroke-width="3.5"/>
<use href="#mY" x="1701.5" y="1398"/><use href="#mB" x="1701.5" y="1500.8"/>
<rect x="1551" y="1360" width="303" height="267" fill="none" stroke="#111" stroke-width="4"/>
<g font-size="22" font-weight="bold" text-anchor="end"><text x="1543" y="1436">4.34</text><text x="1543" y="1503">4.32</text><text x="1543" y="1568">4.30</text></g>
<polyline points="1549,1796.7 1701.5,1818.3 1855,1813.6" fill="none" stroke="#2d6ba8" stroke-width="3"/>
<polyline points="1549,1821.4 1701.5,1843.4 1855,1837.3" fill="none" stroke="#f4b731" stroke-width="3"/>
<use href="#mY" x="1701.5" y="1838"/><use href="#mB" x="1701.5" y="1813"/>
<rect x="1551" y="1653" width="305" height="270" fill="none" stroke="#111" stroke-width="4"/>
<g font-size="22" font-weight="bold" text-anchor="end"><text x="1543" y="1728">4.08</text><text x="1543" y="1795">4.06</text><text x="1543" y="1862">4.04</text></g>
<g font-size="23" font-weight="bold" text-anchor="middle"><text x="1570" y="1965">0.41</text><text x="1699" y="1965">0.42</text><text x="1847" y="1965">0.43</text></g>
</svg>
</body></html>
